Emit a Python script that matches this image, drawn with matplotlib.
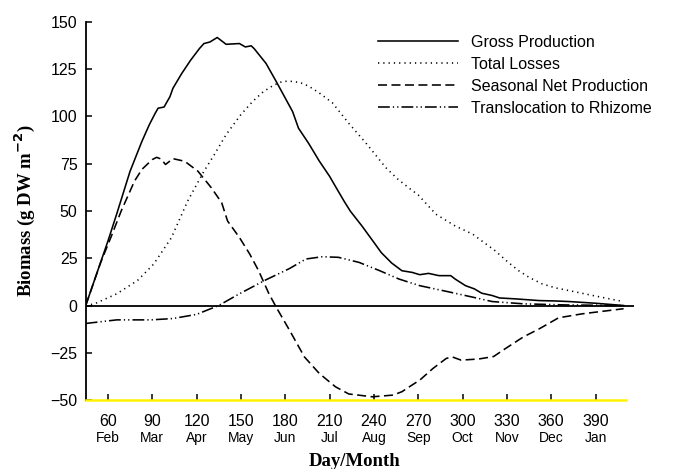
import matplotlib
matplotlib.use("Agg")
import matplotlib.pyplot as plt
import matplotlib.transforms as mtransforms

plt.rcParams['font.family'] = ['Liberation Sans', 'DejaVu Sans']
plt.rcParams['lines.scale_dashes'] = False

# ---- data ----
gross_days = [45, 60, 66, 75, 83, 88, 92, 94, 98, 102, 104, 110, 116, 122, 125, 129, 134, 137, 140,
              149, 153, 157, 159, 167, 174, 185, 189, 196, 203, 210, 214, 220, 224, 232, 239, 245,
              252, 259, 266, 271, 277, 284, 292, 295, 302, 308, 313, 320, 325, 336, 352, 363, 372,
              390, 409]
gross_vals = [0, 34, 48.5, 71, 86.8, 95.6, 101.7, 104.4, 105, 110.5, 114.9, 122.8, 129.8, 136,
              138.6, 139.4, 141.8, 140, 138.2, 138.6, 136.8, 137.4, 135.9, 128.1, 118.4, 102.6,
              93.8, 85.6, 76.5, 68.4, 63, 55, 50, 42, 34.5, 28, 22.5, 18.4, 17.5, 16.3, 17, 15.8,
              15.8, 14, 10.5, 8.8, 6.5, 5.3, 4, 3.5, 2.6, 2.4, 2.1, 1.2, 0]

loss_days = [45, 51, 66, 80, 91, 103, 114, 125, 132, 140, 150, 158, 165, 172, 178, 183, 190, 196,
             203, 212, 223, 235, 248, 256, 264, 270, 282, 295, 307, 313, 322, 331, 338, 345, 354,
             363, 372, 390, 408]
loss_vals = [0, 0.9, 6.2, 13.2, 21.9, 35.9, 55.3, 71, 79.8, 90.4, 101, 108, 113, 116.5, 118.5,
             118.7, 118, 116, 112.5, 107.2, 96.4, 85.6, 73, 67, 62, 58.5, 48.3, 42.1, 37.7, 34.2,
             29, 22.8, 18.4, 14.9, 11.4, 9.3, 7.9, 5, 2.2]

net_days = [45, 55, 62, 69, 78, 83, 90, 93, 96, 99, 104, 112, 121, 130, 137, 141, 149, 156, 162,
            169, 174, 183, 193, 203, 214, 223, 239, 253, 259, 265, 271, 280, 289, 293, 299, 311,
            321, 329, 341, 352, 365, 381, 409]
net_vals = [0, 22.5, 36, 50, 65.8, 72, 77.2, 78.4, 77.5, 74.6, 77.7, 76.3, 71, 62.3, 54.4, 44.7,
            36, 27.2, 18.4, 6.2, -1, -13.2, -27.2, -35.9, -43, -46.8, -48.3, -47.4, -45.6, -42.5,
            -39.5, -33.3, -28, -27.2, -28.9, -28.3, -27, -22.8, -16.7, -12.3, -6.5, -4.4, -1.7]

trans_days = [45, 66, 89, 104, 120, 135, 149, 167, 183, 194, 205, 216, 230, 244, 257, 271, 289,
              307, 320, 341, 370, 409]
trans_vals = [-9.5, -7.6, -7.6, -6.9, -4.7, 0, 6.2, 13.6, 19.6, 24.6, 25.8, 25.5, 22.8, 18.4, 14,
              10.5, 7.5, 4.4, 2.1, 0.9, 0.3, 0]

tick_days = [60, 90, 120, 150, 180, 210, 240, 270, 300, 330, 360, 390]
tick_months = ['Feb', 'Mar', 'Apr', 'May', 'Jun', 'Jul', 'Aug', 'Sep', 'Oct', 'Nov', 'Dec', 'Jan']
y_ticks = [-50, -25, 0, 25, 50, 75, 100, 125, 150]

labels = ['Gross Production', 'Total Losses', 'Seasonal Net Production', 'Translocation to Rhizome']

# ---- figure ----
fig = plt.figure(figsize=(6.76, 4.69), dpi=100)
ax = fig.add_axes([0.1268, 0.1471, 0.811, 0.806])

lw = 1.15
ax.axhline(0, color='black', lw=1.3, zorder=1)
ax.plot(gross_days, gross_vals, color='black', lw=lw, ls='-', label=labels[0])
ax.plot(loss_days, loss_vals, color='black', lw=lw, ls=(0, (0.9, 2.9)), label=labels[1])
ax.plot(net_days, net_vals, color='black', lw=lw, ls=(0, (6.5, 3.2)), label=labels[2])
ax.plot(trans_days, trans_vals, color='black', lw=lw, ls=(0, (8.5, 2.2, 0.9, 2.2, 0.9, 2.2)),
        label=labels[3])

ax.set_xlim(45, 416)
ax.set_ylim(-50, 150)
ax.set_yticks(y_ticks)
ax.set_xticks(tick_days)
ax.set_xticklabels([str(d) for d in tick_days])

ax.spines['top'].set_visible(False)
ax.spines['right'].set_visible(False)
ax.spines['left'].set_linewidth(1.3)
ax.spines['bottom'].set_color('#fff200')
ax.spines['bottom'].set_linewidth(1.8)
ax.spines['bottom'].set_bounds(45, 410.5)

ax.tick_params(axis='both', direction='in', length=4.5, width=1.1, colors='black', labelsize=11.5)
ax.tick_params(axis='x', pad=10)
ax.tick_params(axis='y', pad=6)

trans = mtransforms.blended_transform_factory(ax.transData, ax.transAxes)
for d, m in zip(tick_days, tick_months):
    ax.text(d, -0.101, m, transform=trans, ha='center', va='center', fontsize=10)

serif = {'family': ['Liberation Serif', 'DejaVu Serif'], 'weight': 'bold', 'size': 13.5}
ax.set_xlabel('Day/Month', fontdict=serif)
ax.xaxis.set_label_coords(0.491, -0.14)
ax.set_ylabel('Biomass (g DW m$^{\\mathbf{-2}}$)', fontdict=serif)
ax.yaxis.set_label_coords(-0.089, 0.5)

leg = ax.legend(loc='upper left', bbox_to_anchor=(377.7 / 676, 1 - 35 / 469),
                bbox_transform=fig.transFigure, frameon=False, fontsize=11.5,
                handlelength=5.0, handletextpad=0.85, labelspacing=0.43,
                borderpad=0, borderaxespad=0)

fig.savefig('out.png', dpi=100)
